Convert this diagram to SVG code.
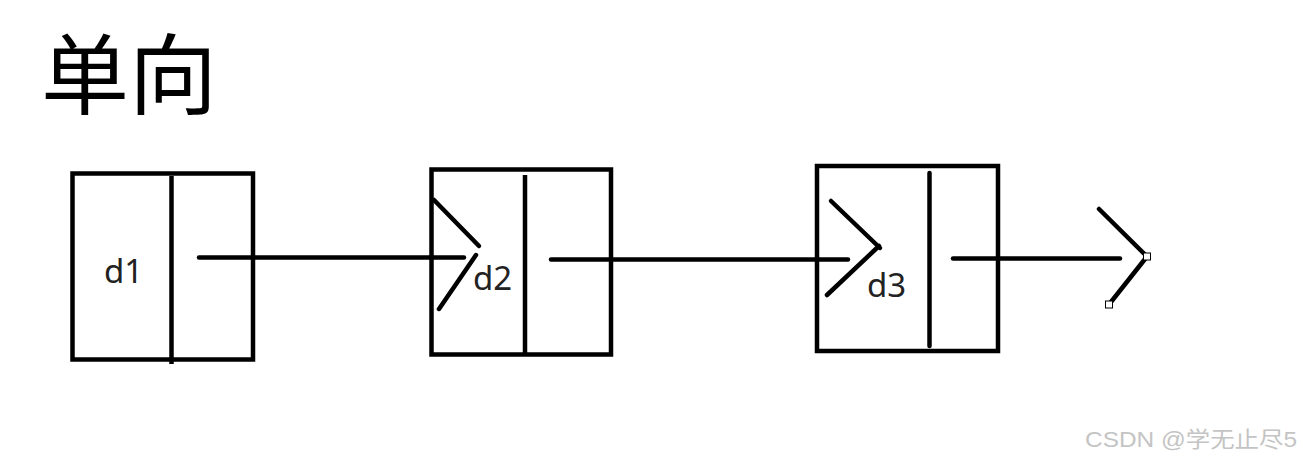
<svg xmlns="http://www.w3.org/2000/svg" width="1303" height="460" viewBox="0 0 1303 460">
<style>
.box{fill:none;stroke:#000;stroke-width:4.5}
.ln{stroke:#000;stroke-width:4.5;stroke-linecap:round;fill:none}
.lbl{font-family:"Noto Sans","Open Sans","DejaVu Sans",sans-serif;font-size:33px;fill:#222}
.h{stroke:#000;stroke-width:1;fill:#fff}
</style>
<rect width="1303" height="460" fill="#fff"/>
<text x="41" y="107" font-family="'Noto Sans CJK SC',sans-serif" font-size="88" fill="#000">单向</text>
<g id="node-d1">
<rect class="box" x="72.5" y="173.5" width="180.5" height="186"/>
<line class="ln" x1="171.5" y1="176" x2="171.5" y2="364" style="stroke-linecap:butt"/>
<text class="lbl" x="104" y="283">d1</text>
</g>
<g id="node-d2">
<rect class="box" x="431.5" y="169.5" width="179.5" height="185"/>
<line class="ln" x1="525" y1="175" x2="525" y2="354" style="stroke-linecap:butt"/>
<text class="lbl" x="473" y="290">d2</text>
</g>
<g id="node-d3">
<rect class="box" x="817" y="166" width="181" height="185"/>
<line class="ln" x1="929.5" y1="173" x2="929.5" y2="346"/>
<text class="lbl" x="867" y="297">d3</text>
</g>
<g id="connectors">
<line class="ln" x1="199" y1="257.5" x2="464" y2="257.5"/>
<line class="ln" x1="434" y1="200" x2="479" y2="246"/>
<line class="ln" x1="476" y1="255" x2="439" y2="309"/>
<line class="ln" x1="551" y1="259.5" x2="848" y2="259.5"/>
<line class="ln" x1="831" y1="201" x2="880" y2="248"/>
<line class="ln" x1="879" y1="246" x2="827" y2="295"/>
<line class="ln" x1="953" y1="258.5" x2="1120" y2="258.5"/>
<line class="ln" x1="1099" y1="209" x2="1147" y2="256.5"/>
<line class="ln" x1="1147" y1="256.5" x2="1109" y2="304.5"/>
<rect class="h" x="1143.5" y="253" width="7" height="7"/>
<rect class="h" x="1105.5" y="301" width="7" height="7"/>
</g>
<text x="1085" y="447" font-family="'Liberation Sans','Noto Sans CJK SC',sans-serif" font-size="22" fill="#c4c4c4" textLength="212" lengthAdjust="spacingAndGlyphs">CSDN @学无止尽5</text>
</svg>
